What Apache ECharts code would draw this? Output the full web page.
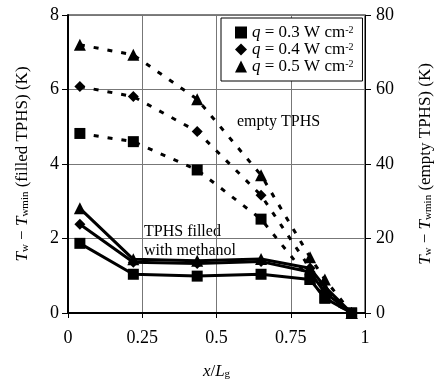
<!DOCTYPE html>
<html>
<head>
    <meta charset="utf-8">
    <title>Tw - Twmin</title>
    <script src="https://cdn.jsdelivr.net/npm/echarts@6/dist/echarts.min.js"></script>
    <style>
        html, body { margin: 0; padding: 0; background: #fff; }
    </style>
</head>
<body>
<div id="chart1" style="width: 439px; height: 388px;"></div>
<script>
    // positions along x/Lg
    var xPos = [0.04, 0.22, 0.435, 0.65, 0.815, 0.865, 0.955];
    // filled TPHS (left axis, K)
    var filled03 = [1.87, 1.04, 0.99, 1.04, 0.9, 0.4, 0];
    var filled04 = [2.38, 1.36, 1.33, 1.38, 1.1, 0.55, 0];
    var filled05 = [2.81, 1.44, 1.4, 1.45, 1.2, 0.7, 0];
    // empty TPHS (right axis, K)
    var empty03 = [48.2, 46, 38.4, 25.2, 9, 4, 0];
    var empty04 = [60.8, 58.1, 48.7, 31.6, 12, 6, 0];
    var empty05 = [72, 69.3, 57.4, 37, 15, 9, 0];
    var legendNames = ['0.3', '0.4', '0.5'];
    var symbols = ['rect', 'diamond', 'triangle'];

    var serif = 'Liberation Serif';

    function pairs(ys) {
        return ys.map(function (y, i) { return [xPos[i], y]; });
    }

    var mathRich = {
        i: {fontStyle: 'italic', fontSize: 17, fontFamily: serif, color: '#000'},
        sub: {fontSize: 11, fontFamily: serif, color: '#000', verticalAlign: 'bottom', lineHeight: 12},
        sup: {fontSize: 10, fontFamily: serif, color: '#000', verticalAlign: 'top', lineHeight: 10}
    };

    var filledSets = [filled03, filled04, filled05];
    var emptySets = [empty03, empty04, empty05];
    var series = [];
    filledSets.forEach(function (d, k) {
        series.push({
            name: 'q' + legendNames[k],
            type: 'line',
            yAxisIndex: 0,
            data: pairs(d),
            symbol: symbols[k],
            symbolSize: k == 2 ? 12 : 11,
            itemStyle: {color: '#000'},
            lineStyle: {color: '#000', width: 3},
            z: 3
        });
    });
    emptySets.forEach(function (d, k) {
        series.push({
            name: 'e' + legendNames[k],
            type: 'line',
            yAxisIndex: 1,
            data: pairs(d),
            symbol: symbols[k],
            symbolSize: k == 2 ? 12 : 11,
            itemStyle: {color: '#000'},
            lineStyle: {color: '#000', width: 3, type: [5, 9]},
            z: 2
        });
    });

    var myChart = echarts.init(document.getElementById('chart1'));
    var option1 = {
        animation: false,
        textStyle: {fontFamily: serif},
        grid: {
            left: 68,
            right: 74,
            top: 15,
            bottom: 75,
            containLabel: false,
            outerBoundsMode: 'none',
            show: true,
            borderColor: '#000',
            borderWidth: 1
        },
        legend: {
            orient: 'vertical',
            left: 221,
            top: 18,
            padding: [6, 9, 6, 14],
            itemGap: 0,
            itemWidth: 12,
            itemHeight: 12,
            backgroundColor: '#fff',
            borderColor: '#000',
            borderWidth: 1,
            data: [
                {name: 'q0.3', icon: 'rect'},
                {name: 'q0.4', icon: 'diamond'},
                {name: 'q0.5', icon: 'triangle'}
            ],
            textStyle: {fontSize: 17, lineHeight: 15, fontFamily: serif, color: '#000', rich: mathRich},
            formatter: function (name) {
                return '{i|q} = ' + name.substring(1) + ' W cm{sup|-2}';
            }
        },
        xAxis: {
            type: 'value',
            min: 0,
            max: 1,
            interval: 0.25,
            name: '{i|x}/{i|L}{sub|g}',
            nameLocation: 'middle',
            nameGap: 50,
            nameTextStyle: {fontSize: 17, fontFamily: serif, color: '#000', rich: mathRich},
            axisLine: {lineStyle: {color: '#000', width: 2}},
            axisTick: {length: 5, lineStyle: {color: '#000'}},
            axisLabel: {fontSize: 18, fontFamily: serif, color: '#000', margin: 16},
            splitLine: {show: true, lineStyle: {color: '#777', width: 1}}
        },
        yAxis: [
            {
                type: 'value',
                min: 0,
                max: 8,
                interval: 2,
                name: '{i|T}{sub|w} \u2212 {i|T}{sub|wmin} (filled TPHS) (K)',
                nameLocation: 'middle',
                nameRotate: 90,
                nameGap: 37,
                nameTextStyle: {fontSize: 17, fontFamily: serif, color: '#000', rich: mathRich},
                axisLine: {show: true, lineStyle: {color: '#000', width: 2}},
                axisTick: {show: true, length: 6, lineStyle: {color: '#000'}},
                axisLabel: {fontSize: 18, fontFamily: serif, color: '#000', margin: 9},
                splitLine: {show: true, lineStyle: {color: '#777', width: 1}}
            },
            {
                type: 'value',
                min: 0,
                max: 80,
                interval: 20,
                position: 'right',
                name: '{i|T}{sub|w} \u2212 {i|T}{sub|wmin} (empty TPHS) (K)',
                nameLocation: 'middle',
                nameRotate: 90,
                nameGap: 52,
                nameTextStyle: {fontSize: 17, fontFamily: serif, color: '#000', rich: mathRich},
                axisLine: {show: true, lineStyle: {color: '#000', width: 1}},
                axisTick: {show: true, length: 6, lineStyle: {color: '#000'}},
                axisLabel: {fontSize: 18, fontFamily: serif, color: '#000', margin: 11},
                splitLine: {show: false}
            }
        ],
        graphic: [
            {
                type: 'text',
                left: 237,
                top: 114,
                style: {text: 'empty TPHS', font: '16px "Liberation Serif"', fill: '#000'}
            },
            {
                type: 'text',
                left: 144,
                top: 222,
                style: {text: 'TPHS filled\nwith methanol', font: '16px "Liberation Serif"', fill: '#000', lineHeight: 19}
            }
        ],
        series: series
    };
    myChart.setOption(option1);
</script>
</body>
</html>
